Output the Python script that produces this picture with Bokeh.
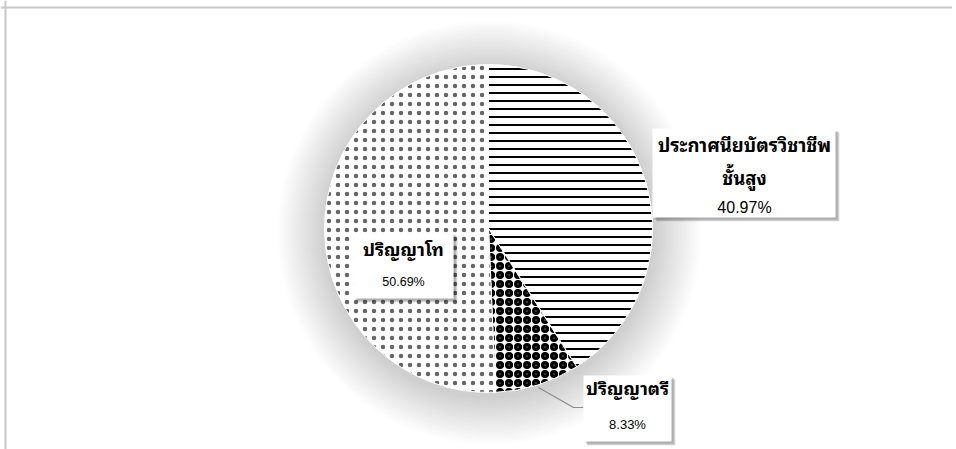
import math
from bokeh.plotting import figure
from bokeh.models import Range1d, Span
from bokeh.core.properties import value
from bokeh.embed import file_html
from bokeh.resources import INLINE

# ---- data ----
categories = ["ประกาศนียบัตรวิชาชีพชั้นสูง", "ปริญญาตรี", "ปริญญาโท"]
label_lines = [["ประกาศนียบัตรวิชาชีพ", "ชั้นสูง"], ["ปริญญาตรี"], ["ปริญญาโท"]]
percents = [40.97, 8.33, 50.69]
pct_labels = ["40.97%", "8.33%", "50.69%"]

W, H = 952, 449
p = figure(width=W, height=H, x_range=Range1d(0, W), y_range=Range1d(0, H),
           output_backend="svg", toolbar_location=None, min_border=0)
p.axis.visible = False
p.grid.visible = False
p.outline_line_color = None
p.background_fill_color = "white"
p.border_fill_color = "white"

# frame (top and left visible)
p.add_layout(Span(location=5, dimension="height", line_color="#c8c8c8", line_width=2))
p.add_layout(Span(location=H - 7, dimension="width", line_color="#c8c8c8", line_width=2))

cx, cy, R = 488, 221, 164

# soft pie shadow
for k in range(24):
    p.circle(x=cx + 1, y=cy - 4, radius=R + 2 + 2 * k, fill_color="black",
             fill_alpha=0.006, line_color=None)

patterns = ["horizontal_line", "ring", "dot"]
scales = [8, 9, 9]
weights = [2, 3.5, 1]
alphas = [1.0, 1.0, 0.6]

total = sum(percents)
cum = 0.0
for i, pc in enumerate(percents):
    a0 = math.pi / 2 - 2 * math.pi * cum / total
    cum += pc
    a1 = math.pi / 2 - 2 * math.pi * cum / total
    p.wedge(x=cx, y=cy, radius=R, start_angle=a0, end_angle=a1, direction="clock",
            fill_color="white", line_color="white", line_width=1,
            hatch_pattern=patterns[i], hatch_color="black", hatch_alpha=alphas[i],
            hatch_scale=scales[i], hatch_weight=weights[i])

# labels: (box left, box bottom, box width, box height, centre x, y of lines, y of percent,
#          thai size, percent size)
boxes = [
    (652, 232, 183, 89, 744, [306, 273], 242, "18.5px", "16px"),
    (583, 8, 88, 66, 627, [63], 25, "18px", "13px"),
    (353, 151, 100, 66, 403, [202], 168, "18px", "12.5px"),
]

# leader line for the small slice
p.line(x=[538, 573, 583], y=[62, 42, 42], line_color="#8c8c8c", line_width=1.2)

thai_font = value("Noto Sans Thai Looped, Tahoma, Noto Sans Thai, Noto Sans, sans-serif")
for i, (bx, by, bw, bh, tx, ys, yp, ts, ps) in enumerate(boxes):
    for k in range(4):
        p.rect(x=bx + bw / 2 + 2 + k * 0.7, y=by + bh / 2 - 2 - k * 0.7, width=bw, height=bh,
               fill_color="black", fill_alpha=0.09, line_color=None)
    p.rect(x=bx + bw / 2, y=by + bh / 2, width=bw, height=bh, fill_color="white",
           line_color=None)
    for line, yy in zip(label_lines[i], ys):
        p.text(x=[tx], y=[yy], text=[line], text_align="center", text_baseline="middle",
               text_font=thai_font, text_font_style="bold", text_font_size=ts,
               text_color="black")
    p.text(x=[tx], y=[yp], text=[pct_labels[i]], text_align="center", text_baseline="middle",
           text_font=value("Liberation Sans"), text_font_size=ps, text_color="black")

open("out.html", "w").write(file_html(p, INLINE))
